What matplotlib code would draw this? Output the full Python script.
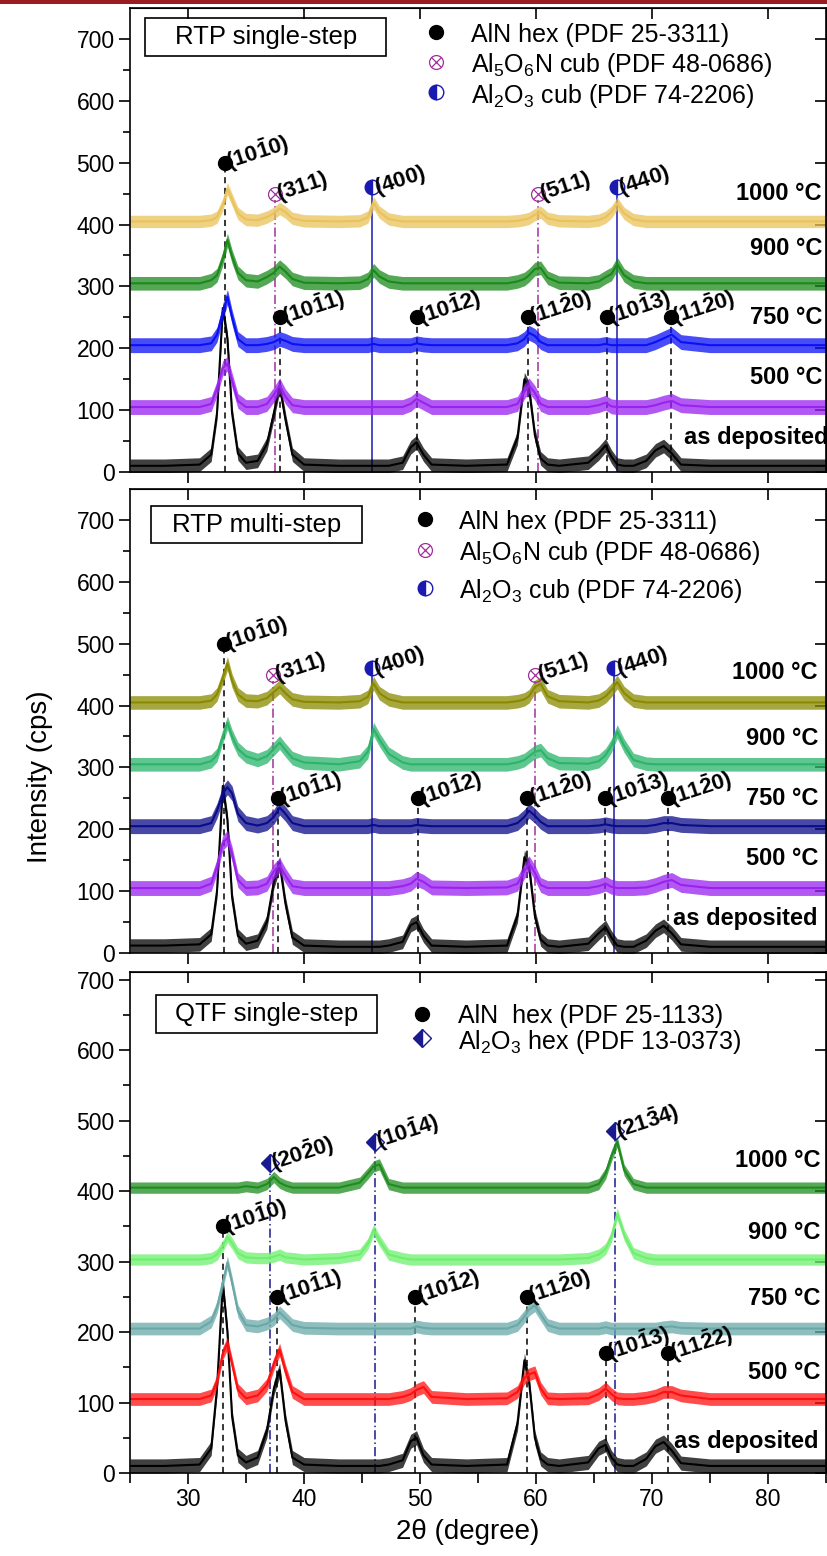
import matplotlib.pyplot as plt
from matplotlib.patches import Rectangle

plt.rcParams['font.family'] = 'Liberation Sans'
plt.rcParams['mathtext.fontset'] = 'custom'
plt.rcParams['mathtext.rm'] = 'Liberation Sans'
plt.rcParams['mathtext.it'] = 'Liberation Sans:italic'
plt.rcParams['mathtext.bf'] = 'Liberation Sans:bold'
plt.rcParams['mathtext.default'] = 'regular'

# 2theta grid the curves were read on
X = [25, 28, 31,
     32.0, 32.5, 33.0, 33.4, 33.8, 34.3,
     35.0, 36.0, 36.8, 37.4, 37.9, 38.4, 39.0, 40.0,
     43.0, 44.8, 45.5, 46.0, 46.5, 47.3, 48.5,
     49.2, 49.7, 50.3, 51.0,
     54.0, 57.5, 58.4, 59.0, 59.4, 59.9, 60.4, 61.0, 62.0,
     64.5, 65.4, 66.0, 66.5, 67.0, 67.6, 68.4,
     69.5, 70.3, 71.0, 71.7, 72.5, 75.0, 80.0, 85.0]

TEMPS = ['as deposited', '500 °C', '750 °C', '900 °C', '1000 °C']

# ---- RTP single-step
P1_AD = [10, 10, 12, 28, 95, 265, 215, 95, 30, 15, 18, 45, 95, 140, 85, 28, 12,
         10, 10, 10, 10, 10, 10, 15, 40, 48, 28, 12, 10, 12, 55, 150, 135, 60, 22, 12, 10,
         15, 30, 43, 25, 12, 10, 10, 18, 35, 42, 30, 12, 10, 10, 10]
P1_500 = [105, 105, 105, 110, 135, 168, 175, 148, 115, 105, 105, 110, 125, 140, 122, 108, 105,
          105, 105, 105, 105, 105, 105, 105, 110, 118, 112, 105, 105, 105, 110, 130, 140, 128, 110, 105, 105,
          105, 108, 112, 106, 105, 105, 105, 105, 108, 112, 115, 108, 105, 105, 105]
P1_750 = [205, 205, 205, 208, 222, 258, 283, 250, 215, 205, 205, 207, 210, 215, 212, 207, 205,
          205, 205, 205, 207, 205, 205, 205, 205, 208, 206, 205, 205, 205, 208, 215, 225, 220, 210, 205, 205,
          205, 205, 207, 205, 205, 205, 205, 205, 210, 216, 222, 210, 205, 205, 205]
P1_900 = [305, 305, 305, 310, 318, 345, 375, 348, 322, 310, 308, 315, 322, 332, 324, 312, 306,
          305, 306, 312, 326, 316, 308, 305, 305, 305, 305, 305, 305, 305, 308, 312, 318, 328, 330, 314, 306,
          305, 308, 315, 320, 336, 318, 308, 305, 305, 305, 305, 305, 305, 305, 305]
P1_1000 = [405, 405, 405, 407, 412, 432, 458, 440, 418, 408, 407, 412, 418, 426, 420, 410, 406,
           405, 406, 412, 435, 420, 409, 405, 405, 405, 405, 405, 405, 405, 406, 408, 410, 416, 420, 410, 406,
           405, 407, 412, 420, 434, 418, 408, 405, 405, 405, 405, 405, 405, 405, 405]
P1_COLORS = ['black', '#9a22f0', '#0a10f5', '#1b8a1b', '#e9c25a']
P1_NOISE = [11, 12, 12, 11, 10]
P1_TEMP_Y = [55, 152, 250, 361, 450]

P1_ALN_X = [33.2, 37.95, 49.75, 59.3, 66.1, 71.6]
P1_ALN_Y = [500, 250, 250, 250, 250, 250]
P1_ALN_HKL = [r'10\bar{1}0', r'10\bar{1}1', r'10\bar{1}2', r'11\bar{2}0', r'10\bar{1}3', r'11\bar{2}0']
P1_ALON_X = [37.5, 60.15]
P1_ALON_Y = [450, 450]
P1_ALON_HKL = ['311', '511']
P1_CUB_X = [45.9, 66.95]
P1_CUB_Y = [460, 460]
P1_CUB_HKL = ['400', '440']

# ---- RTP multi-step
P2_AD = [12, 12, 14, 30, 100, 270, 215, 90, 28, 15, 20, 50, 115, 145, 80, 25, 12,
         10, 10, 10, 10, 10, 12, 18, 45, 50, 28, 12, 10, 12, 60, 155, 140, 60, 22, 12, 10,
         15, 32, 42, 25, 12, 10, 10, 20, 36, 44, 32, 14, 10, 10, 10]
P2_500 = [105, 105, 105, 112, 140, 178, 186, 160, 118, 105, 106, 112, 132, 142, 125, 108, 105,
          105, 105, 105, 105, 105, 105, 108, 112, 120, 115, 106, 105, 106, 112, 132, 145, 130, 110, 105, 105,
          105, 108, 112, 107, 105, 105, 105, 106, 110, 115, 118, 110, 105, 105, 105]
P2_750 = [205, 205, 205, 210, 230, 258, 268, 258, 225, 210, 206, 210, 220, 235, 225, 210, 205,
          205, 205, 205, 207, 205, 205, 205, 205, 207, 206, 205, 205, 205, 210, 220, 230, 222, 212, 205, 205,
          205, 206, 208, 206, 205, 205, 205, 205, 207, 210, 210, 207, 205, 205, 205]
P2_900 = [305, 305, 305, 310, 320, 350, 372, 350, 330, 318, 312, 318, 330, 340, 328, 315, 308,
          305, 310, 325, 362, 345, 322, 308, 305, 305, 305, 305, 305, 305, 308, 312, 318, 325, 328, 315, 307,
          306, 310, 320, 335, 358, 335, 312, 306, 305, 305, 305, 305, 305, 305, 305]
P2_1000 = [405, 405, 405, 408, 418, 445, 468, 440, 418, 408, 407, 412, 422, 430, 420, 410, 406,
           405, 407, 414, 436, 420, 410, 405, 405, 405, 405, 405, 405, 405, 407, 410, 415, 430, 435, 415, 407,
           405, 408, 415, 425, 438, 420, 408, 405, 405, 405, 405, 405, 405, 405, 405]
P2_COLORS = ['black', '#9a22f0', '#0a0a8a', '#2bb46a', '#8a8a00']
P2_NOISE = [11, 12, 12, 11, 11]
P2_TEMP_Y = [56, 153, 250, 347, 453]

P2_ALN_X = [33.1, 37.75, 49.8, 59.25, 65.95, 71.35]
P2_ALN_Y = [500, 250, 250, 250, 250, 250]
P2_ALN_HKL = P1_ALN_HKL
P2_ALON_X = [37.3, 59.95]
P2_ALON_Y = [450, 450]
P2_ALON_HKL = ['311', '511']
P2_CUB_X = [45.85, 66.75]
P2_CUB_Y = [460, 460]
P2_CUB_HKL = ['400', '440']

# ---- QTF single-step
P3_AD = [10, 10, 12, 35, 120, 270, 200, 80, 25, 15, 22, 60, 120, 146, 75, 22, 12,
         10, 10, 10, 10, 10, 12, 18, 45, 50, 25, 12, 10, 12, 70, 160, 130, 50, 20, 12, 10,
         15, 35, 40, 22, 12, 10, 10, 20, 38, 44, 32, 14, 10, 10, 10]
P3_500 = [105, 105, 105, 110, 130, 170, 184, 155, 118, 106, 110, 125, 155, 175, 145, 115, 105,
          105, 105, 105, 105, 105, 105, 108, 112, 118, 122, 108, 105, 106, 115, 135, 140, 143, 120, 106, 105,
          106, 112, 120, 112, 106, 105, 105, 107, 110, 115, 115, 110, 105, 105, 105]
P3_750 = [205, 205, 205, 215, 235, 270, 299, 270, 230, 210, 208, 212, 218, 228, 220, 210, 206,
          205, 205, 205, 205, 205, 205, 205, 205, 208, 206, 205, 205, 205, 210, 222, 232, 238, 225, 210, 205,
          205, 205, 207, 205, 205, 205, 205, 205, 205, 207, 208, 206, 205, 205, 205]
P3_900 = [303, 303, 303, 305, 310, 322, 335, 326, 312, 306, 305, 305, 307, 310, 306, 305, 303,
          305, 310, 325, 345, 330, 310, 305, 303, 303, 303, 303, 303, 303, 303, 303, 303, 303, 303, 303, 303,
          305, 310, 318, 335, 368, 338, 312, 305, 303, 303, 303, 303, 303, 303, 303]
P3_1000 = [405, 405, 405, 405, 405, 405, 405, 405, 405, 407, 405, 410, 420, 412, 408, 405, 405,
           405, 412, 425, 435, 438, 410, 405, 405, 405, 405, 405, 405, 405, 405, 405, 405, 405, 405, 405, 405,
           405, 410, 425, 450, 470, 430, 410, 405, 405, 405, 405, 405, 405, 405, 405]
P3_COLORS = ['black', '#ff1010', '#6aa8a8', '#6ef06e', '#1e8c1e']
P3_NOISE = [10, 9, 9, 8, 8]
P3_TEMP_Y = [44, 142, 248, 342, 444]

P3_ALN_X = [33.0, 37.7, 49.6, 59.2, 66.0, 71.4]
P3_ALN_Y = [350, 250, 250, 250, 170, 170]
P3_ALN_HKL = [r'10\bar{1}0', r'10\bar{1}1', r'10\bar{1}2', r'11\bar{2}0', r'10\bar{1}3', r'11\bar{2}2']
P3_HEX_X = [37.05, 46.1, 66.8]
P3_HEX_Y = [440, 470, 485]
P3_HEX_HKL = [r'20\bar{2}0', r'10\bar{1}4', r'21\bar{3}4']

PURPLE = '#a0309a'
CUBBLUE = '#1a1ab0'
NAVY = '#1a1a90'

fig = plt.figure(figsize=(8.28, 15.56), dpi=100)
H = 1556.0
L, R = 130 / 828, 826 / 828
ax1 = fig.add_axes([L, 1 - 472 / H, R - L, 464 / H])
ax2 = fig.add_axes([L, 1 - 953 / H, R - L, 464 / H])
ax3 = fig.add_axes([L, 1 - 1473 / H, R - L, 501 / H])


def hkl_label(ax, x, y, hkl):
    ax.annotate(r'$\mathbf{(' + hkl + ')}$', xy=(x, y), xytext=(3, -5),
                textcoords='offset points', rotation=18, rotation_mode='anchor',
                ha='left', va='baseline', fontsize=16, zorder=6)


def otimes(ax, x, y, z):
    ax.plot(x, y, 'o', ms=10, mfc='none', mec=PURPLE, mew=0.9, zorder=z)
    ax.plot(x, y, 'x', ms=7, color=PURPLE, mew=0.9, zorder=z)


def half_circle(ax, x, y, z):
    ax.plot(x, y, 'o', ms=10.5, fillstyle='left', color=CUBBLUE,
            markerfacecoloralt='white', markeredgecolor=CUBBLUE, mew=1, zorder=z)


def half_diamond(ax, x, y, z):
    ax.plot(x, y, 'D', ms=9.5, fillstyle='left', color=NAVY,
            markerfacecoloralt='white', markeredgecolor=NAVY, mew=1, zorder=z)


def setup(ax, ytop, minor_x):
    ax.set_xlim(25, 85)
    ax.set_ylim(0, ytop)
    ax.set_xticks(range(30, 90, 10))
    ax.set_yticks(range(0, 800, 100))
    ax.set_yticks(range(50, 750, 100), minor=True)
    if minor_x:
        ax.set_xticks(range(25, 90, 5), minor=True)
    ax.tick_params(axis='both', which='major', direction='out', length=8, width=1.2,
                   labelsize=16.5, pad=3)
    ax.tick_params(axis='y', which='minor', direction='out', length=5, width=1.2)
    ax.tick_params(axis='x', which='minor', direction='out', length=7, width=1.2)
    for s in ax.spines.values():
        s.set_linewidth(1.2)
    top = ax.secondary_xaxis('top')
    top.set_xticks(range(30, 90, 10))
    top.tick_params(direction='in', length=8, width=1.2, labeltop=False)
    right = ax.secondary_yaxis('right')
    right.set_yticks(range(0, 800, 100))
    right.tick_params(direction='in', length=8, width=1.2, labelright=False)


def curves(ax, data, colors, noise):
    for i in range(len(data) - 1, -1, -1):
        y = data[i]
        lo = [v - noise[i] for v in y]
        hi = [v + noise[i] for v in y]
        ax.fill_between(X, lo, hi, color=colors[i], alpha=0.75, lw=0, zorder=2 + i * 0.01)
        ax.plot(X, y, color=colors[i], lw=1.5, zorder=2.005 + i * 0.01)


def temps(ax, ys, ad_x, right_x):
    for i, t in enumerate(TEMPS):
        if i == 0:
            ax.text(ad_x, ys[i], t, ha='left', va='center', fontsize=17,
                    fontweight='bold', clip_on=False, zorder=7)
        else:
            ax.text(right_x, ys[i], t, ha='right', va='center', fontsize=17,
                    fontweight='bold', clip_on=False, zorder=7)


def title_box(ax, x0, x1, y0, y1, text):
    ax.add_patch(Rectangle((x0, y0), x1 - x0, y1 - y0, fill=False, lw=1.2,
                           edgecolor='black', zorder=6))
    ax.text((x0 + x1) / 2, (y0 + y1) / 2, text, ha='center', va='center',
            fontsize=18.5, zorder=6)


def aln_marks(ax, xs, ys, hkls):
    for x, y, h in zip(xs, ys, hkls):
        ax.plot([x, x], [0, y - 10], color='black', lw=1.1, ls=(0, (4, 3)), zorder=1.5)
        ax.plot(x, y, 'o', color='black', ms=10, zorder=5)
        hkl_label(ax, x, y, h)


def alon_marks(ax, xs, ys, hkls):
    for x, y, h in zip(xs, ys, hkls):
        ax.plot([x, x], [0, y - 10], color=PURPLE, lw=1.1, ls=(0, (6, 2, 1, 2)), zorder=1.5)
        otimes(ax, x, y, 5)
        hkl_label(ax, x, y, h)


def cub_marks(ax, xs, ys, hkls):
    for x, y, h in zip(xs, ys, hkls):
        ax.plot([x, x], [0, y], color=CUBBLUE, lw=1.1, zorder=1.5)
        half_circle(ax, x, y, 5)
        hkl_label(ax, x, y, h)


def rtp_legend(ax, xm, xt, ys):
    ax.plot(xm, ys[0], 'o', color='black', ms=10, zorder=6)
    otimes(ax, xm, ys[1], 6)
    half_circle(ax, xm, ys[2], 6)
    texts = ['AlN hex (PDF 25-3311)', r'Al$_5$O$_6$N cub (PDF 48-0686)',
             r'Al$_2$O$_3$ cub (PDF 74-2206)']
    for y, t in zip(ys, texts):
        ax.text(xt, y, t, ha='left', va='center_baseline', fontsize=18, zorder=6)


# panel 1
setup(ax1, 750, False)
ax1.tick_params(axis='x', labelbottom=False)
curves(ax1, [P1_AD, P1_500, P1_750, P1_900, P1_1000], P1_COLORS, P1_NOISE)
aln_marks(ax1, P1_ALN_X, P1_ALN_Y, P1_ALN_HKL)
alon_marks(ax1, P1_ALON_X, P1_ALON_Y, P1_ALON_HKL)
cub_marks(ax1, P1_CUB_X, P1_CUB_Y, P1_CUB_HKL)
temps(ax1, P1_TEMP_Y, 72.75, 84.65)
title_box(ax1, 26.3, 47.1, 673, 734, 'RTP single-step')
rtp_legend(ax1, 51.4, 54.4, [711, 663, 614])

# panel 2
setup(ax2, 750, False)
ax2.tick_params(axis='x', labelbottom=False)
curves(ax2, [P2_AD, P2_500, P2_750, P2_900, P2_1000], P2_COLORS, P2_NOISE)
aln_marks(ax2, P2_ALN_X, P2_ALN_Y, P2_ALN_HKL)
alon_marks(ax2, P2_ALON_X, P2_ALON_Y, P2_ALON_HKL)
cub_marks(ax2, P2_CUB_X, P2_CUB_Y, P2_CUB_HKL)
temps(ax2, P2_TEMP_Y, 71.8, 84.3)
title_box(ax2, 26.8, 45.0, 663, 722, 'RTP multi-step')
rtp_legend(ax2, 50.45, 53.4, [701, 652, 590])

# panel 3
setup(ax3, 711, True)
curves(ax3, [P3_AD, P3_500, P3_750, P3_900, P3_1000], P3_COLORS, P3_NOISE)
aln_marks(ax3, P3_ALN_X, P3_ALN_Y, P3_ALN_HKL)
for x, y, h in zip(P3_HEX_X, P3_HEX_Y, P3_HEX_HKL):
    ax3.plot([x, x], [0, y - 10], color=NAVY, lw=1.1, ls=(0, (6, 2, 1, 2)), zorder=1.5)
    half_diamond(ax3, x, y, 5)
    hkl_label(ax3, x, y, h)
temps(ax3, P3_TEMP_Y, 71.9, 84.5)
title_box(ax3, 27.2, 46.3, 624, 678, 'QTF single-step')
ax3.plot(50.2, 652, 'o', color='black', ms=10, zorder=6)
half_diamond(ax3, 50.2, 617, 6)
ax3.text(53.3, 652, 'AlN  hex (PDF 25-1133)', ha='left', va='center_baseline', fontsize=18)
ax3.text(53.3, 617, r'Al$_2$O$_3$ hex (PDF 13-0373)', ha='left', va='center_baseline', fontsize=18)

fig.text(40 / 828, 1 - 777 / H, 'Intensity (cps)', rotation=90, ha='center', va='center', fontsize=20)
fig.text(468 / 828, 1 - 1532 / H, '2θ (degree)', ha='center', va='center', fontsize=20)
fig.add_artist(Rectangle((0, 1 - 4 / H), 1, 4 / H, transform=fig.transFigure,
                         color='#9b1c20', lw=0))

fig.savefig('out.png', dpi=100)
